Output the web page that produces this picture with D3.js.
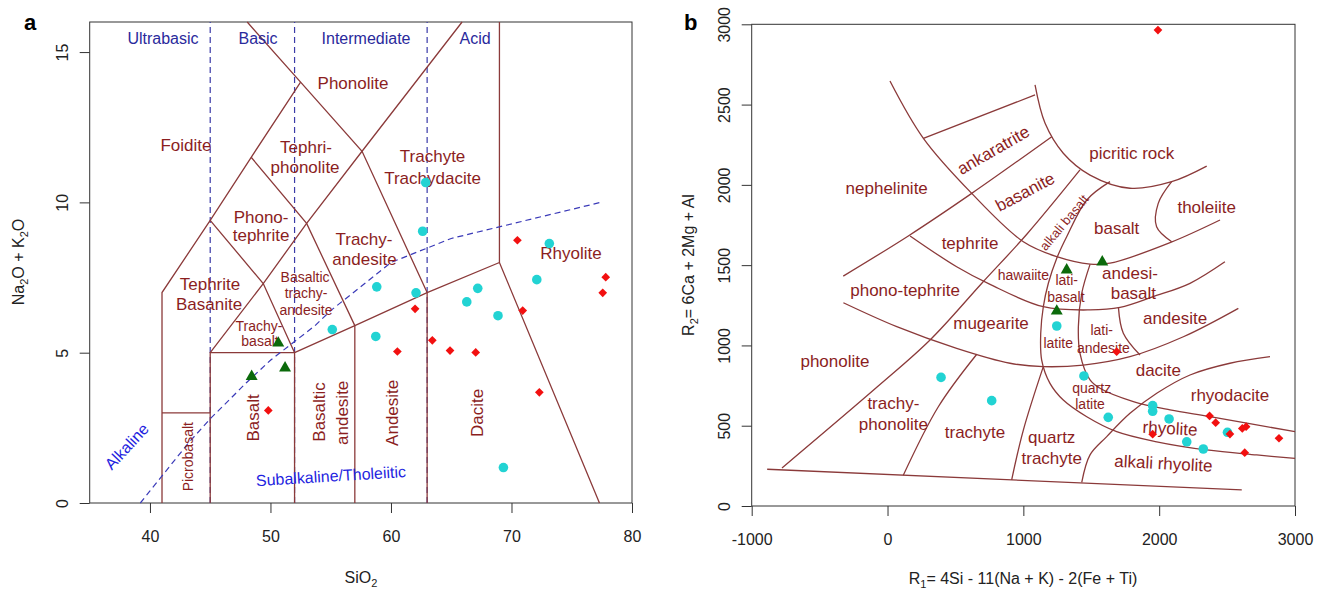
<!DOCTYPE html>
<html>
<head>
<meta charset="utf-8">
<script src="https://cdn.jsdelivr.net/npm/d3@7"></script>
<style>
  body { margin: 0; background: #fff; }
  svg { display: block; font-family: "Liberation Sans", Arial, sans-serif; }
</style>
</head>
<body>
<div id="chart"></div>
<script>
// --- 1. DATA ---

// (a) TAS diagram: field boundaries as [SiO2, Na2O+K2O] polylines
const tasFieldLines = [
    [[41, 0], [41, 7], [45, 9.4], [48.4, 11.5], [52.5, 14]],
    [[41, 3], [45, 3]],
    [[45, 0], [45, 5], [52, 5], [52, 0]],
    [[45, 5], [49.4, 7.3], [53, 9.3], [57.6, 11.7], [65.9, 16]],
    [[45, 9.4], [49.4, 7.3], [52, 5]],
    [[48.4, 11.5], [53, 9.3], [57, 5.9]],
    [[48.07, 16], [52.5, 14], [57.6, 11.7], [63, 7]],
    [[52, 5], [57, 5.9], [63, 7], [69, 8], [77.3, 0]],
    [[57, 0], [57, 5.9]],
    [[63, 0], [63, 7]],
    [[69, 8], [69, 16]]
];
const tasDivisions = [45, 52, 63];
const alkalineSi  = [39.2, 40, 43.2, 45, 48, 50, 53.7, 55, 60, 65, 77.4];
const alkalineAlk = [0, 0.4, 2, 2.8, 4, 4.75, 5.9, 6.4, 8, 8.8, 10];

const tasLabels = [
    { t: "Ultrabasic", x: 41.08, y: 15.47, k: "zone" },
    { t: "Basic", x: 48.97, y: 15.47, k: "zone" },
    { t: "Intermediate", x: 57.93, y: 15.47, k: "zone" },
    { t: "Acid", x: 66.98, y: 15.47, k: "zone" },
    { t: "Phonolite", x: 56.85, y: 13.97, k: "big" },
    { t: "Foidite", x: 42.99, y: 11.9, k: "big" },
    { t: "Tephri-", x: 52.95, y: 11.83, k: "big" },
    { t: "phonolite", x: 52.87, y: 11.17, k: "big" },
    { t: "Trachyte", x: 63.45, y: 11.53, k: "big" },
    { t: "Trachydacite", x: 63.45, y: 10.8, k: "big" },
    { t: "Phono-", x: 49.22, y: 9.5, k: "big" },
    { t: "tephrite", x: 49.22, y: 8.9, k: "big" },
    { t: "Trachy-", x: 57.76, y: 8.77, k: "big" },
    { t: "andesite", x: 57.8, y: 8.13, k: "big" },
    { t: "Tephrite", x: 44.98, y: 7.27, k: "big" },
    { t: "Basanite", x: 44.9, y: 6.63, k: "big" },
    { t: "Basaltic", x: 52.87, y: 7.5, k: "small" },
    { t: "trachy-", x: 52.95, y: 6.97, k: "small" },
    { t: "andesite", x: 52.95, y: 6.43, k: "small" },
    { t: "Trachy-", x: 49.05, y: 5.9, k: "small" },
    { t: "basalt", x: 49.13, y: 5.37, k: "small" },
    { t: "Basalt", x: 48.58, y: 2.83, k: "vbig" },
    { t: "Picrobasalt", x: 43.13, y: 1.54, k: "vsmall" },
    { t: "Basaltic", x: 54.03, y: 3.03, k: "vbig" },
    { t: "andesite", x: 55.96, y: 3.0, k: "vbig" },
    { t: "Andesite", x: 60.06, y: 3.0, k: "vbig" },
    { t: "Dacite", x: 67.12, y: 3.0, k: "vbig" },
    { t: "Rhyolite", x: 74.94, y: 8.33, k: "big" },
    { t: "Alkaline", x: 38.07, y: 1.88, k: "blue" },
    { t: "Subalkaline/Tholeiitic", x: 55.02, y: 0.9, k: "blue" }
];

// (a) samples
const tasRedSi   = [70.49, 77.82, 77.57, 70.93, 62.0, 63.43, 64.9, 67.03, 60.53, 72.31, 49.82];
const tasRedAlk  = [8.74, 7.51, 6.99, 6.4, 6.46, 5.41, 5.07, 5.01, 5.04, 3.68, 3.08];
const tasCyanSi  = [62.88, 62.63, 73.14, 72.1, 67.2, 62.08, 58.82, 66.29, 68.88, 55.13, 58.74, 69.33];
const tasCyanAlk = [10.66, 9.04, 8.63, 7.43, 7.14, 6.99, 7.19, 6.69, 6.23, 5.77, 5.54, 1.18];
const tasGreenSi  = [50.65, 48.44, 51.21];
const tasGreenAlk = [5.32, 4.21, 4.49];

// (b) R1-R2 diagram: field boundaries as [R1, R2] curves
const r1r2Curves = [
    [[-886, 229], [2608, 100]],
    [[-777, 237], [-77, 741], [313, 1034], [696, 1389], [1027, 1694], [1417, 2093]],
    [[-326, 1432], [153, 1682], [620, 1947], [1209, 2300]],
    [[264, 2290], [1086, 2560]],
    [[18, 2647], [264, 2290], [620, 1947], [1000, 1646], [1246, 1553], [1491, 1507], [1638, 1512], [2080, 1640], [2448, 1781]],
    [[1086, 2622], [1160, 2383], [1294, 2197], [1491, 2061], [1785, 1979], [2092, 2020], [2350, 2117]],
    [[2092, 2020], [1993, 1885], [1981, 1739], [2092, 1646]],
    [[166, 1682], [509, 1490], [755, 1380], [1147, 1241], [1491, 1221], [1712, 1237], [1957, 1304], [2227, 1387], [2484, 1521]],
    [[-325, 1266], [68, 1117], [509, 982], [902, 889], [1147, 868], [1441, 878], [1785, 930], [2178, 1054], [2583, 1231]],
    [[1638, 2020], [1467, 1906], [1319, 1677], [1246, 1543], [1184, 1387], [1147, 1241], [1128, 1076], [1135, 909], [1196, 764], [1294, 660], [1467, 556], [1687, 463], [1982, 400], [2350, 349], [2718, 318], [3000, 297]],
    [[1491, 1505], [1430, 1325], [1405, 1117], [1417, 951], [1491, 785], [1564, 733], [1810, 650], [2080, 598], [2374, 556], [3000, 463]],
    [[1700, 1237], [1736, 1076], [1859, 940]],
    [[1430, 147], [1491, 318], [1614, 432], [1785, 577], [1982, 702], [2227, 816], [2521, 889], [2816, 930]],
    [[1147, 868], [1000, 473], [914, 163]],
    [[116, 191], [374, 618], [657, 945]]
];

const r1r2Labels = [
    { t: "ankaratrite", x: 778, y: 2217, k: "big" },
    { t: "basanite", x: 1012, y: 1957, k: "big" },
    { t: "alkali basalt", x: 1300, y: 1765, k: "tiny" },
    { t: "picritic rock", x: 1798, y: 2197, k: "big" },
    { t: "tholeiite", x: 2350, y: 1864, k: "big" },
    { t: "basalt", x: 1687, y: 1729, k: "big" },
    { t: "nephelinite", x: -6, y: 1979, k: "big" },
    { t: "tephrite", x: 607, y: 1640, k: "big" },
    { t: "phono-tephrite", x: 129, y: 1345, k: "big" },
    { t: "hawaiite", x: 1000, y: 1439, k: "small" },
    { t: "lati-", x: 1319, y: 1407, k: "small" },
    { t: "basalt", x: 1313, y: 1303, k: "small" },
    { t: "andesi-", x: 1785, y: 1449, k: "big" },
    { t: "basalt", x: 1810, y: 1325, k: "big" },
    { t: "andesite", x: 2117, y: 1169, k: "big" },
    { t: "mugearite", x: 762, y: 1140, k: "big" },
    { t: "latite", x: 1257, y: 1013, k: "small" },
    { t: "lati-", x: 1577, y: 1096, k: "small" },
    { t: "andesite", x: 1589, y: 982, k: "small" },
    { t: "dacite", x: 1994, y: 847, k: "big" },
    { t: "quartz", x: 1503, y: 733, k: "small" },
    { t: "latite", x: 1491, y: 635, k: "small" },
    { t: "rhyodacite", x: 2521, y: 691, k: "big" },
    { t: "rhyolite", x: 2080, y: 484, k: "big" },
    { t: "alkali rhyolite", x: 2031, y: 266, k: "big" },
    { t: "quartz", x: 1209, y: 432, k: "big" },
    { t: "trachyte", x: 1209, y: 296, k: "big" },
    { t: "trachyte", x: 644, y: 463, k: "big" },
    { t: "trachy-", x: 43, y: 640, k: "big" },
    { t: "phonolite", x: 43, y: 511, k: "big" },
    { t: "phonolite", x: -387, y: 903, k: "big" }
];

// (b) samples
const rRedR1   = [1991, 1687, 2371, 2416, 2521, 2612, 2640, 2882, 2630, 1952];
const rRedR2   = [2964, 961, 561, 519, 448, 483, 494, 422, 332, 447];
const rCyanR1  = [394, 767, 1246, 1446, 1625, 1952, 1952, 2073, 2203, 2325, 2503];
const rCyanR2  = [801, 656, 1121, 810, 552, 625, 590, 542, 400, 355, 459];
const rGreenR1 = [1319, 1581, 1246];
const rGreenR2 = [1470, 1520, 1214];

// tick labels
const tasXTicks = [40, 50, 60, 70, 80];
const tasYTicks = [0, 5, 10, 15];
const rXTicks = [-1000, 0, 1000, 2000, 3000];
const rYTicks = [0, 500, 1000, 1500, 2000, 2500, 3000];

// --- 2. STYLES ---
const BROWN_TEXT = "#8b1e1e";
const BROWN_LINE = "#8b3a3a";
const NAVY = "#2a2a9c";
const BLUE = "#1f1fe0";
const labelStyle = {
    zone:   { size: 16, color: NAVY, rot: 0 },
    big:    { size: 17, color: BROWN_TEXT, rot: 0 },
    small:  { size: 14, color: BROWN_TEXT, rot: 0 },
    tiny:   { size: 13, color: BROWN_TEXT, rot: 0 },
    vbig:   { size: 17, color: BROWN_TEXT, rot: -90 },
    vsmall: { size: 14, color: BROWN_TEXT, rot: -90 },
    blue:   { size: 16, color: BLUE, rot: 0 }
};
// a few labels follow the slope of their field
const labelAngles = {
    "Alkaline": -47, "Subalkaline/Tholeiitic": -3.5,
    "ankaratrite": -30, "basanite": -28, "alkali basalt": -50,
    "rhyolite": 3, "alkali rhyolite": 3
};

const svg = d3.select("#chart").append("svg")
    .attr("width", 1326)
    .attr("height", 590);

const diamond = d3.symbol().type(d3.symbolSquare).size(38)();
const triangle = d3.symbol().type(d3.symbolTriangle).size(62)();

// --- 3. PANEL HELPER ---
function drawFrame(x, y, xTicks, yTicks) {
    const [x0, x1] = x.range();
    const [y0, y1] = y.range();
    const g = svg.append("g");

    const xAxis = g.append("g")
        .attr("transform", `translate(0,${y0})`)
        .call(d3.axisBottom(x).tickValues(xTicks).tickSize(10).tickSizeOuter(0).tickFormat(d => String(d)));
    xAxis.select(".domain").remove();
    xAxis.selectAll("line").attr("stroke", "#333");
    xAxis.selectAll("text")
        .attr("y", 39).attr("dy", 0)
        .attr("font-size", 16).attr("fill", "#222")
        .attr("font-family", "'Liberation Sans', Arial, sans-serif");

    const yAxis = g.append("g")
        .attr("transform", `translate(${x0},0)`)
        .call(d3.axisLeft(y).tickValues(yTicks).tickSize(10).tickSizeOuter(0).tickFormat(d => String(d)));
    yAxis.select(".domain").remove();
    yAxis.selectAll("line").attr("stroke", "#333");
    yAxis.selectAll("text")
        .attr("transform", "rotate(-90)")
        .attr("x", 0).attr("y", -22).attr("dy", 0)
        .attr("text-anchor", "middle")
        .attr("font-size", 16).attr("fill", "#222")
        .attr("font-family", "'Liberation Sans', Arial, sans-serif");

    g.append("rect")
        .attr("x", x0).attr("y", y1)
        .attr("width", x1 - x0).attr("height", y0 - y1)
        .attr("fill", "none").attr("stroke", "#333").attr("stroke-width", 1);
    return g;
}

function drawLabels(g, labels, x, y) {
    g.selectAll(null)
        .data(labels)
        .enter()
        .append("text")
        .attr("transform", d => {
            const st = labelStyle[d.k];
            const a = labelAngles[d.t] !== undefined && st.rot === 0 ? labelAngles[d.t] : st.rot;
            return `translate(${x(d.x)},${y(d.y)}) rotate(${a})`;
        })
        .attr("text-anchor", "middle")
        .attr("dy", "0.35em")
        .attr("font-size", d => labelStyle[d.k].size)
        .attr("fill", d => labelStyle[d.k].color)
        .text(d => d.t);
}

function drawPoints(g, xs, ys, x, y, kind) {
    const pts = xs.map((v, i) => [v, ys[i]]);
    if (kind === "circle") {
        g.selectAll(null).data(pts).enter().append("circle")
            .attr("cx", d => x(d[0])).attr("cy", d => y(d[1]))
            .attr("r", 4.8).attr("fill", "#22d3d3");
    } else if (kind === "diamond") {
        g.selectAll(null).data(pts).enter().append("path")
            .attr("d", diamond)
            .attr("transform", d => `translate(${x(d[0])},${y(d[1])}) rotate(45)`)
            .attr("fill", "#f21010");
    } else {
        g.selectAll(null).data(pts).enter().append("path")
            .attr("d", triangle)
            .attr("transform", d => `translate(${x(d[0])},${y(d[1])})`)
            .attr("fill", "#0b6a0b");
    }
}

// --- 4. PANEL A: TAS ---
const xa = d3.scaleLinear().domain([35, 80]).range([89.7, 632]);
const ya = d3.scaleLinear().domain([0, 16]).range([503, 22]);
const ga = drawFrame(xa, ya, tasXTicks, tasYTicks);

const lineA = d3.line().x(d => xa(d[0])).y(d => ya(d[1]));

ga.selectAll(null)
    .data(tasDivisions)
    .enter()
    .append("line")
    .attr("x1", d => xa(d)).attr("x2", d => xa(d))
    .attr("y1", ya(0)).attr("y2", ya(16))
    .attr("stroke", "#3a3aa8").attr("stroke-width", 1.2)
    .attr("stroke-dasharray", "6,4");

ga.selectAll(null)
    .data(tasFieldLines)
    .enter()
    .append("path")
    .attr("d", lineA)
    .attr("fill", "none")
    .attr("stroke", BROWN_LINE).attr("stroke-width", 1.3);

ga.append("path")
    .attr("d", lineA(alkalineSi.map((v, i) => [v, alkalineAlk[i]])))
    .attr("fill", "none")
    .attr("stroke", "#3a3ab8").attr("stroke-width", 1.2)
    .attr("stroke-dasharray", "6,4");

drawLabels(ga, tasLabels, xa, ya);
drawPoints(ga, tasCyanSi, tasCyanAlk, xa, ya, "circle");
drawPoints(ga, tasRedSi, tasRedAlk, xa, ya, "diamond");
drawPoints(ga, tasGreenSi, tasGreenAlk, xa, ya, "triangle");

// axis titles
const titleA = svg.append("text")
    .attr("x", 361).attr("y", 583)
    .attr("text-anchor", "middle").attr("font-size", 16).attr("fill", "#222");
titleA.append("tspan").text("SiO");
titleA.append("tspan").attr("font-size", 11).attr("dy", 4).text("2");

const ytA = svg.append("text")
    .attr("transform", "translate(24,262) rotate(-90)")
    .attr("text-anchor", "middle").attr("font-size", 16).attr("fill", "#222");
ytA.append("tspan").text("Na");
ytA.append("tspan").attr("font-size", 11).attr("dy", 4).text("2");
ytA.append("tspan").attr("dy", -4).text("O + K");
ytA.append("tspan").attr("font-size", 11).attr("dy", 4).text("2");
ytA.append("tspan").attr("dy", -4).text("O");

svg.append("text").attr("x", 24).attr("y", 30)
    .attr("font-size", 22).attr("font-weight", "bold").text("a");

// --- 5. PANEL B: R1-R2 ---
const xb = d3.scaleLinear().domain([-1000, 3000]).range([751.7, 1295]);
const yb = d3.scaleLinear().domain([0, 3000]).range([506, 24.3]);
const gb = drawFrame(xb, yb, rXTicks, rYTicks);

const lineB = d3.line()
    .x(d => xb(d[0])).y(d => yb(d[1]))
    .curve(d3.curveCatmullRom.alpha(0.5));

gb.selectAll(null)
    .data(r1r2Curves)
    .enter()
    .append("path")
    .attr("d", lineB)
    .attr("fill", "none")
    .attr("stroke", BROWN_LINE).attr("stroke-width", 1.3);

drawLabels(gb, r1r2Labels, xb, yb);
drawPoints(gb, rCyanR1, rCyanR2, xb, yb, "circle");
drawPoints(gb, rRedR1, rRedR2, xb, yb, "diamond");
drawPoints(gb, rGreenR1, rGreenR2, xb, yb, "triangle");

const titleB = svg.append("text")
    .attr("x", 1023).attr("y", 584)
    .attr("text-anchor", "middle").attr("font-size", 16).attr("fill", "#222");
titleB.append("tspan").text("R");
titleB.append("tspan").attr("font-size", 11).attr("dy", 4).text("1");
titleB.append("tspan").attr("dy", -4).text("= 4Si - 11(Na + K) - 2(Fe + Ti)");

const ytB = svg.append("text")
    .attr("transform", "translate(694,265) rotate(-90)")
    .attr("text-anchor", "middle").attr("font-size", 16).attr("fill", "#222");
ytB.append("tspan").text("R");
ytB.append("tspan").attr("font-size", 11).attr("dy", 4).text("2");
ytB.append("tspan").attr("dy", -4).text("= 6Ca + 2Mg + Al");

svg.append("text").attr("x", 684).attr("y", 30)
    .attr("font-size", 22).attr("font-weight", "bold").text("b");
</script>
</body>
</html>
